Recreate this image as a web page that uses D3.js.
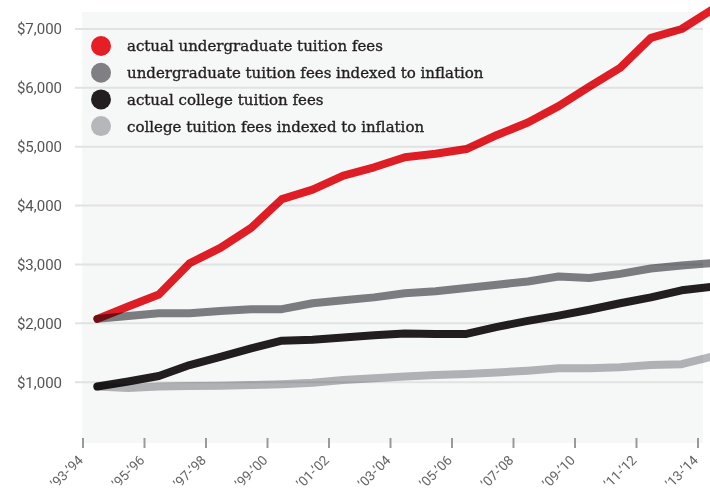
<!DOCTYPE html>
<html>
<head>
<meta charset="utf-8">
<script src="https://cdn.jsdelivr.net/npm/d3@7"></script>
<style>
  body { margin: 0; background: #fff; }
  svg { display: block; }
  .line { fill: none; stroke-width: 8; stroke-linecap: round; stroke-linejoin: round; mix-blend-mode: multiply; }
</style>
</head>
<body>
<div id="chart"></div>
<script>
const years = ["’93-’94","’94-’95","’95-’96","’96-’97","’97-’98","’98-’99","’99-’00","’00-’01","’01-’02","’02-’03",
  "’03-’04","’04-’05","’05-’06","’06-’07","’07-’08","’08-’09","’09-’10","’10-’11","’11-’12","’12-’13","’13-’14"];

const actualUndergrad = [2075, 2285, 2490, 3020, 3280, 3620, 4110, 4270, 4510, 4650, 4820, 4880, 4960, 5200, 5410, 5690, 6020, 6340, 6850, 7000, 7330];
const undergradIndexed = [2075, 2125, 2170, 2170, 2210, 2240, 2240, 2340, 2390, 2440, 2510, 2545, 2600, 2655, 2710, 2795, 2770, 2840, 2930, 2980, 3025];
const actualCollege = [925, 1010, 1105, 1290, 1430, 1575, 1705, 1720, 1760, 1795, 1825, 1820, 1820, 1940, 2040, 2130, 2230, 2340, 2440, 2560, 2620];
const collegeIndexed = [925, 900, 925, 935, 940, 950, 965, 990, 1035, 1065, 1095, 1120, 1140, 1165, 1195, 1235, 1235, 1255, 1290, 1305, 1435];

const seriesNames = [
  "actual undergraduate tuition fees",
  "undergraduate tuition fees indexed to inflation",
  "actual college tuition fees",
  "college tuition fees indexed to inflation"
];
const seriesColors = ["#e61e26", "#808084", "#231f20", "#b6b7ba"];
const yTicks = [1000, 2000, 3000, 4000, 5000, 6000, 7000];

const W = 710, H = 498;
const panel = { left: 82, right: 703, top: 12, bottom: 443 };

const svg = d3.select("#chart").append("svg")
  .attr("width", W).attr("height", H);

const x = d3.scaleBand().domain(years).range([82, 82 + 21 * 30.75]).padding(0);
const y = d3.scaleLinear().domain([0, 7000]).range([441, 29]);

// background panel
svg.append("rect")
  .attr("x", panel.left).attr("y", panel.top)
  .attr("width", panel.right - panel.left).attr("height", panel.bottom - panel.top)
  .attr("fill", "#f6f7f7");

// grid + y labels
svg.append("g").selectAll("line").data(yTicks).join("line")
  .attr("x1", 75).attr("x2", panel.right)
  .attr("y1", d => y(d)).attr("y2", d => y(d))
  .attr("stroke", "#e1e2e2").attr("stroke-width", 2);

svg.append("g").selectAll("text").data(yTicks).join("text")
  .attr("x", 62).attr("y", d => y(d)).attr("dy", "0.36em")
  .attr("text-anchor", "end")
  .attr("font-family", "Roboto, 'Liberation Sans', sans-serif")
  .attr("font-size", 15).attr("fill", "#555")
  .text(d => "$" + d3.format(",")(d));

// x ticks every two years
const tickYears = years.filter((d, i) => i % 2 === 0);
svg.append("g").selectAll("line").data(tickYears).join("line")
  .attr("x1", d => x(d) + 1).attr("x2", d => x(d) + 1)
  .attr("y1", 438).attr("y2", 448)
  .attr("stroke", "#9a9a9a").attr("stroke-width", 2);

svg.append("g").selectAll("text").data(tickYears).join("text")
  .attr("transform", d => `translate(${x(d) + 2},${461}) rotate(-45)`)
  .attr("text-anchor", "end")
  .attr("font-family", "Roboto, 'Liberation Sans', sans-serif")
  .attr("font-size", 13.5).attr("fill", "#666")
  .text(d => d);

// lines
const allSeries = [collegeIndexed, actualCollege, undergradIndexed, actualUndergrad];
const colorsFor = [seriesColors[3], seriesColors[2], seriesColors[1], seriesColors[0]];
const line = d3.line()
  .x((d, i) => x(years[i]) + x.bandwidth() / 2)
  .y(d => y(d));

svg.append("g").selectAll("path").data(allSeries).join("path")
  .attr("class", "line")
  .attr("stroke", (d, i) => colorsFor[i])
  .attr("d", line);

// legend
const legend = svg.append("g").selectAll("g").data(seriesNames).join("g")
  .attr("transform", (d, i) => `translate(101,${46 + i * 26.7})`);
legend.append("circle").attr("r", 10).attr("fill", (d, i) => seriesColors[i]);
legend.append("text")
  .attr("x", 26).attr("dy", "0.36em")
  .attr("font-family", "'DejaVu Serif', serif")
  .attr("font-size", 15).attr("fill", "#231f20")
  .attr("stroke", "#231f20").attr("stroke-width", 0.35)
  .text(d => d);
</script>
</body>
</html>
